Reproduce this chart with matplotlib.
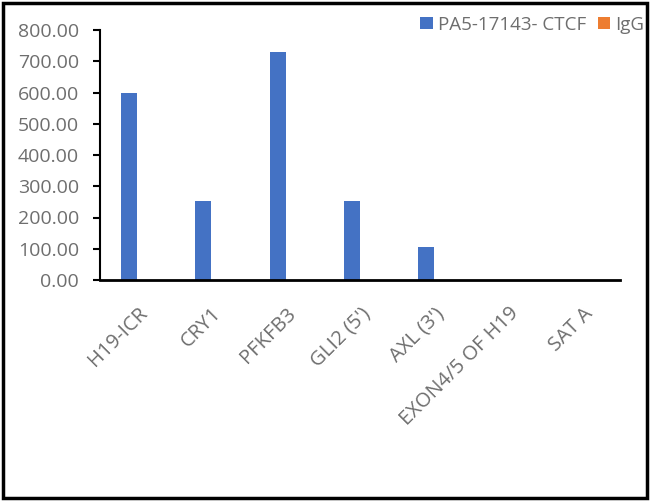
import numpy as np
import matplotlib
matplotlib.use("Agg")
import matplotlib.pyplot as plt
import matplotlib.transforms as mtransforms
from matplotlib.patches import Rectangle

plt.rcParams['font.family'] = ['Open Sans', 'DejaVu Sans']

targets = ["H19-ICR", "CRY1", "PFKFB3", "GLI2 (5')", "AXL (3')", "EXON4/5 OF H19", "SAT A"]
ctcf = [597, 253, 731, 253, 106, 0, 0]
igg = [1, 1, 1, 1, 1, 0, 0]
yticks = [0, 100, 200, 300, 400, 500, 600, 700, 800]

W, H = 650, 501
fig = plt.figure(figsize=(W / 100, H / 100), dpi=100)
ax = fig.add_axes([100 / W, (H - 280) / H, 520 / W, 250 / H])

x = np.arange(len(targets))
w = 0.215
ax.bar(x - w / 2, ctcf, w, color="#4472C4", label="PA5-17143- CTCF")
ax.bar(x + w / 2, igg, w, color="#ED7D31", label="IgG")

ax.set_xlim(-0.5, len(targets) - 0.5)
ax.set_ylim(0, 800)
ax.set_yticks(yticks)
ax.set_yticklabels([f"{v:.2f}" for v in yticks])
ax.set_xticks(x)
ax.set_xticklabels(targets, rotation=45, ha="right", va="top", rotation_mode="anchor")
shift = mtransforms.ScaledTranslation(7 / 100, 0, fig.dpi_scale_trans)
for lab in ax.get_xticklabels():
    lab.set_transform(lab.get_transform() + shift)

for s in ["top", "right"]:
    ax.spines[s].set_visible(False)
ax.spines["left"].set_linewidth(1.5)
ax.spines["bottom"].set_linewidth(2)
ax.tick_params(axis="y", length=5, width=1.5, labelsize=14, labelcolor="#6e6e6e", pad=10)
ax.tick_params(axis="x", length=0, labelsize=14.5, labelcolor="#6e6e6e", pad=17)

fig.legend(loc="upper right", bbox_to_anchor=(652 / W, 1 - 8 / H), ncol=2, frameon=False,
           fontsize=13.5, labelcolor="#6e6e6e", handlelength=0.65, handleheight=0.6,
           handletextpad=0.3, columnspacing=0.6, borderaxespad=0)

fig.patches.append(Rectangle((3 / W, 3 / H), 644 / W, 495 / H, transform=fig.transFigure,
                             fill=False, edgecolor="black", linewidth=2.5))

fig.savefig("out.png", dpi=100)
